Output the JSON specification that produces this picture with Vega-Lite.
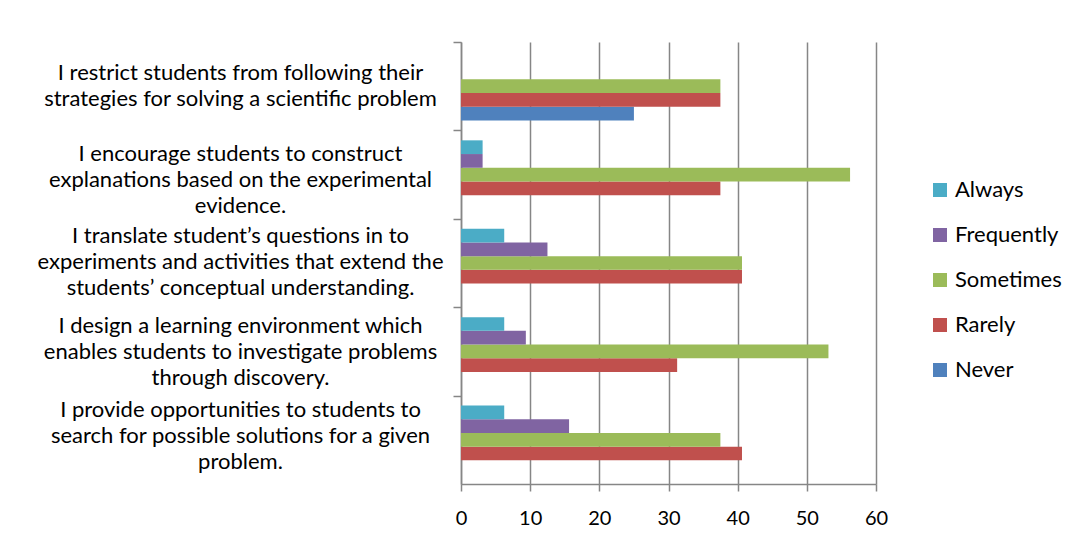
{
  "$schema": "https://vega.github.io/schema/vega-lite/v6.json",
  "width": 415,
  "height": 442,
  "autosize": {"type": "none"},
  "padding": {"left": 461, "top": 42, "right": 197, "bottom": 53},
  "background": "white",
  "config": {"view": {"stroke": null}, "font": "Lato"},
  "data": {
    "values": [
      {"statement": "I restrict students from following their\nstrategies for solving a scientific problem", "response": "Never", "percent": 25},
      {"statement": "I restrict students from following their\nstrategies for solving a scientific problem", "response": "Rarely", "percent": 37.5},
      {"statement": "I restrict students from following their\nstrategies for solving a scientific problem", "response": "Sometimes", "percent": 37.5},
      {"statement": "I encourage students to construct\nexplanations based on the experimental\nevidence.", "response": "Rarely", "percent": 37.5},
      {"statement": "I encourage students to construct\nexplanations based on the experimental\nevidence.", "response": "Sometimes", "percent": 56.25},
      {"statement": "I encourage students to construct\nexplanations based on the experimental\nevidence.", "response": "Frequently", "percent": 3.125},
      {"statement": "I encourage students to construct\nexplanations based on the experimental\nevidence.", "response": "Always", "percent": 3.125},
      {"statement": "I translate student’s questions in to\nexperiments and activities that extend the\nstudents’ conceptual understanding.", "response": "Rarely", "percent": 40.625},
      {"statement": "I translate student’s questions in to\nexperiments and activities that extend the\nstudents’ conceptual understanding.", "response": "Sometimes", "percent": 40.625},
      {"statement": "I translate student’s questions in to\nexperiments and activities that extend the\nstudents’ conceptual understanding.", "response": "Frequently", "percent": 12.5},
      {"statement": "I translate student’s questions in to\nexperiments and activities that extend the\nstudents’ conceptual understanding.", "response": "Always", "percent": 6.25},
      {"statement": "I design a learning environment which\nenables students to investigate problems\nthrough discovery.", "response": "Rarely", "percent": 31.25},
      {"statement": "I design a learning environment which\nenables students to investigate problems\nthrough discovery.", "response": "Sometimes", "percent": 53.125},
      {"statement": "I design a learning environment which\nenables students to investigate problems\nthrough discovery.", "response": "Frequently", "percent": 9.375},
      {"statement": "I design a learning environment which\nenables students to investigate problems\nthrough discovery.", "response": "Always", "percent": 6.25},
      {"statement": "I provide opportunities to students to\nsearch for possible solutions for a given\nproblem.", "response": "Rarely", "percent": 40.625},
      {"statement": "I provide opportunities to students to\nsearch for possible solutions for a given\nproblem.", "response": "Sometimes", "percent": 37.5},
      {"statement": "I provide opportunities to students to\nsearch for possible solutions for a given\nproblem.", "response": "Frequently", "percent": 15.625},
      {"statement": "I provide opportunities to students to\nsearch for possible solutions for a given\nproblem.", "response": "Always", "percent": 6.25}
    ]
  },
  "mark": {"type": "bar"},
  "encoding": {
    "y": {
      "field": "statement",
      "type": "nominal",
      "sort": [
        "I restrict students from following their\nstrategies for solving a scientific problem",
        "I encourage students to construct\nexplanations based on the experimental\nevidence.",
        "I translate student’s questions in to\nexperiments and activities that extend the\nstudents’ conceptual understanding.",
        "I design a learning environment which\nenables students to investigate problems\nthrough discovery.",
        "I provide opportunities to students to\nsearch for possible solutions for a given\nproblem."
      ],
      "scale": {"paddingInner": 0, "paddingOuter": 0},
      "axis": {
        "title": null,
        "labelExpr": "split(datum.value, '\\n')",
        "tickOffset": -44.2,
        "labelOffset": {
          "condition": [
            {"test": "indexof(datum.value, 'I restrict') === 0", "value": 30},
            {"test": "indexof(datum.value, 'I encourage') === 0", "value": 23},
            {"test": "indexof(datum.value, 'I translate') === 0", "value": 17},
            {"test": "indexof(datum.value, 'I provide') === 0", "value": 14}
          ],
          "value": 18
        },
        "tickSize": 8,
        "tickColor": "#868686",
        "tickWidth": 1.5,
        "domainColor": "#868686",
        "domainWidth": 1.5,
        "labelAlign": "center",
        "labelBaseline": "middle",
        "labelPadding": 213,
        "labelFontSize": 22,
        "labelLineHeight": 26,
        "labelColor": "#000000",
        "labelLimit": 600,
        "labelOverlap": false
      }
    },
    "yOffset": {
      "field": "response",
      "type": "nominal",
      "sort": ["Always", "Frequently", "Sometimes", "Rarely", "Never"],
      "scale": {"paddingInner": 0, "paddingOuter": 0.725}
    },
    "x": {
      "field": "percent",
      "type": "quantitative",
      "scale": {"domain": [0, 60], "nice": false},
      "axis": {
        "title": null,
        "values": [0, 10, 20, 30, 40, 50, 60],
        "grid": true,
        "gridColor": "#868686",
        "gridWidth": 1.5,
        "tickSize": 7,
        "tickColor": "#868686",
        "tickWidth": 1.5,
        "domainColor": "#868686",
        "domainWidth": 1.5,
        "labelFontSize": 20,
        "labelPadding": 17,
        "labelColor": "#000000",
        "labelFlush": false
      }
    },
    "color": {
      "field": "response",
      "type": "nominal",
      "scale": {
        "domain": ["Always", "Frequently", "Sometimes", "Rarely", "Never"],
        "range": ["#4BACC6", "#8064A2", "#9BBB59", "#C0504D", "#4F81BD"]
      },
      "legend": {
        "title": null,
        "orient": "none",
        "legendX": 468,
        "legendY": 137,
        "symbolType": "square",
        "symbolSize": 196,
        "symbolStrokeWidth": 0,
        "labelFontSize": 22,
        "labelColor": "#000000",
        "labelOffset": 4,
        "rowPadding": 23
      }
    }
  }
}
